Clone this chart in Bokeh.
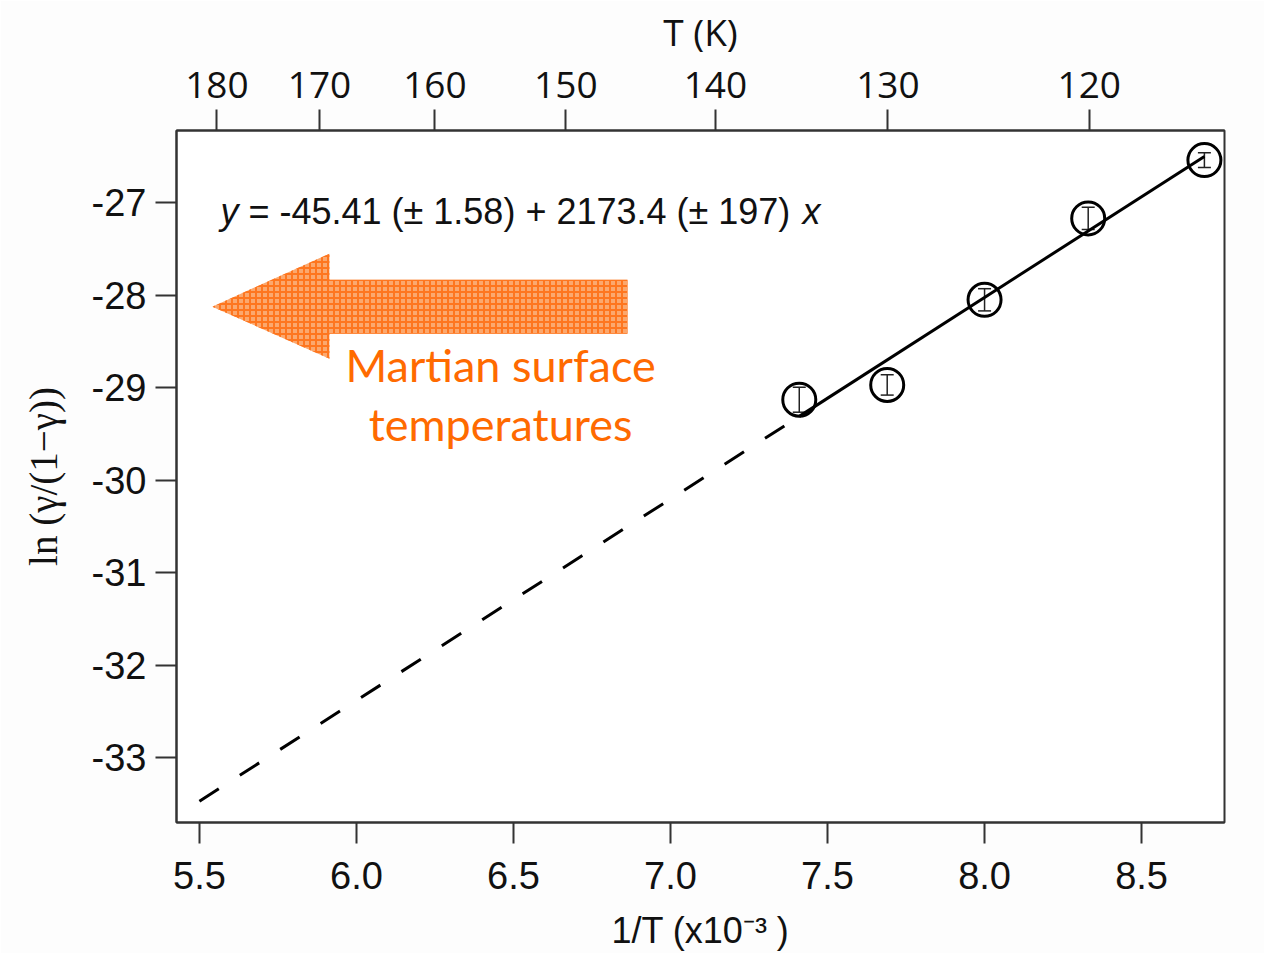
from bokeh.plotting import figure
from bokeh.models import (ColumnDataSource, LinearAxis, FixedTicker, CustomJSTickFormatter,
                          NumeralTickFormatter, Whisker, TeeHead, Range1d)
from bokeh.core.properties import value
from bokeh.embed import file_html
from bokeh.resources import INLINE

# ---- data ----
inv_T = [7.41, 7.69, 8.00, 8.33, 8.70]            # 1/T (x10^-3)
ln_gamma = [-29.13, -28.97, -28.05, -27.17, -26.54]
ln_gamma_err = [0.135, 0.11, 0.12, 0.12, 0.08]

fit_dash_x = [5.5, 7.41]
fit_dash_y = [-33.47, -29.31]
fit_solid_x = [7.41, 8.70]
fit_solid_y = [-29.31, -26.50]

x_ticks = [5.5, 6.0, 6.5, 7.0, 7.5, 8.0, 8.5]
y_ticks = [-33, -32, -31, -30, -29, -28, -27]
top_T_labels = [180, 170, 160, 150, 140, 130, 120]

eq_left = "y"
eq_mid = "= -45.41 (± 1.58) + 2173.4 (± 197)"
eq_right = "x"
note_lines = ["Martian surface", "temperatures"]
y_label = "ln (γ/(1−γ))"
x_label = "1/T (x10⁻³ )"
top_label = "T (K)"

# ---- figure ----
AX = "#333333"
TXT = "#111111"
p = figure(x_range=Range1d(5.427, 8.764), y_range=Range1d(-33.70, -26.22),
           frame_width=1048, frame_height=692,
           min_border_left=176, min_border_top=130, min_border_bottom=126, min_border_right=40,
           output_backend="svg", toolbar_location=None,
           x_axis_label=x_label, y_axis_label=y_label)
p.background_fill_color = "#ffffff"
p.border_fill_color = "#fdfdfd"
p.outline_line_color = AX
p.outline_line_width = 2
p.xgrid.visible = False
p.ygrid.visible = False

bottom = p.below[0]
left = p.left[0]
bottom.ticker = FixedTicker(ticks=x_ticks)
bottom.formatter = NumeralTickFormatter(format="0.0")
left.ticker = FixedTicker(ticks=y_ticks)
left.formatter = CustomJSTickFormatter(code="return tick.toFixed(0);")

top = LinearAxis(ticker=FixedTicker(ticks=[1000.0 / t for t in top_T_labels]),
                 formatter=CustomJSTickFormatter(code="return Math.round(1000/tick).toString();"),
                 axis_label=top_label)
p.add_layout(top, "above")

for ax in [bottom, left, top]:
    ax.axis_line_color = AX
    ax.axis_line_width = 2
    ax.major_tick_line_color = AX
    ax.major_tick_line_width = 2
    ax.major_tick_in = 0
    ax.major_tick_out = 21
    ax.minor_tick_in = 0
    ax.minor_tick_out = 0
    ax.major_label_text_color = TXT
    ax.axis_label_text_color = TXT
    ax.axis_label_text_font_style = "normal"

for ax in [bottom, left]:
    ax.major_label_text_font = "Liberation Sans"
    ax.major_label_text_font_size = "38px"
    ax.axis_label_text_font = "Liberation Sans"
    ax.axis_label_text_font_size = "36px"

bottom.major_label_standoff = 18
bottom.axis_label_standoff = 18
left.major_label_standoff = 9
left.axis_label_text_font = "Liberation Serif"
left.axis_label_text_font_size = "39px"
left.axis_label_standoff = 24

top.major_label_text_font = "Open Sans"
top.major_label_text_font_size = "37px"
top.axis_label_text_font = "Open Sans"
top.axis_label_text_font_size = "37px"
top.major_label_standoff = 12
top.axis_label_standoff = 12

# ---- orange arrow (annotation) ----
arrow_x = [5.541, 5.914, 5.914, 6.863, 6.863, 5.914, 5.914]
arrow_y = [-28.124, -27.551, -27.832, -27.832, -28.416, -28.416, -28.686]
p.patch(arrow_x, arrow_y, fill_color="#FBA86E", line_color=None,
        hatch_pattern="+", hatch_color="#FF6D12", hatch_scale=6, hatch_weight=2, hatch_alpha=0.85)

p.text(x=[6.459, 6.459], y=[-28.76, -29.39], text=note_lines,
       text_align="center", text_baseline="alphabetic", text_color="#FF6A00",
       text_font=value("Lato"), text_font_size="45px")

# ---- fit lines ----
p.line(fit_dash_x, fit_dash_y, line_color="black", line_width=3, line_dash="23 25")
p.line(fit_solid_x, fit_solid_y, line_color="black", line_width=3)

# ---- data points with error bars ----
src = ColumnDataSource(dict(
    x=inv_T, y=ln_gamma,
    lo=[v - e for v, e in zip(ln_gamma, ln_gamma_err)],
    hi=[v + e for v, e in zip(ln_gamma, ln_gamma_err)],
))
w = Whisker(source=src, base="x", lower="lo", upper="hi",
            line_color="#222222", line_width=1.5,
            lower_head=TeeHead(size=13, line_color="#222222", line_width=1.5),
            upper_head=TeeHead(size=13, line_color="#222222", line_width=1.5))
p.add_layout(w)
p.scatter("x", "y", source=src, marker="circle", size=33, fill_color=None,
          line_color="black", line_width=3)

# ---- equation ----
eq_x = [5.567]
eq_y = [-27.10]
p.text(x=eq_x, y=eq_y, text=[eq_left], text_font=value("Liberation Sans"),
       text_font_style="italic", text_font_size="36px", text_baseline="alphabetic", text_color=TXT)
p.text(x=eq_x, y=eq_y, x_offset=28, text=[eq_mid], text_font=value("Liberation Sans"),
       text_font_size="36px", text_baseline="alphabetic", text_color=TXT)
p.text(x=eq_x, y=eq_y, x_offset=582, text=[eq_right], text_font=value("Liberation Sans"),
       text_font_style="italic", text_font_size="36px", text_baseline="alphabetic", text_color=TXT)

open("out.html", "w").write(file_html(p, INLINE))
